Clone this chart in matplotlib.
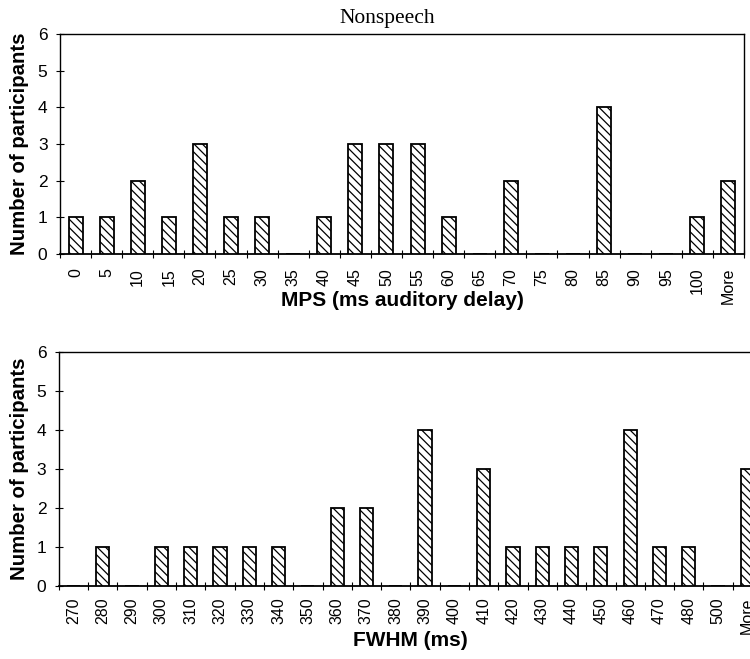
import matplotlib
matplotlib.use("Agg")
import matplotlib.pyplot as plt
import numpy as np

mps_labels = ["0", "5", "10", "15", "20", "25", "30", "35", "40", "45", "50",
              "55", "60", "65", "70", "75", "80", "85", "90", "95", "100", "More"]
mps_counts = [1, 1, 2, 1, 3, 1, 1, 0, 1, 3, 3, 3, 1, 0, 2, 0, 0, 4, 0, 0, 1, 2]

fwhm_labels = ["270", "280", "290", "300", "310", "320", "330", "340", "350",
               "360", "370", "380", "390", "400", "410", "420", "430", "440",
               "450", "460", "470", "480", "500", "More"]
fwhm_counts = [0, 1, 0, 1, 1, 1, 1, 1, 0, 2, 2, 0, 4, 0, 3, 1, 1, 1, 1, 4, 1, 1, 0, 3]

plt.rcParams['font.family'] = ['Liberation Sans', 'DejaVu Sans']
plt.rcParams['hatch.linewidth'] = 0.9

fig = plt.figure(figsize=(7.5, 6.59), dpi=100)

def draw(ax, labels, counts, xlabel, xlab_y, ylab_x, tickpad):
    n = len(labels)
    x = np.arange(n)
    ax.bar(x, counts, width=0.45, color='white', edgecolor='black',
           linewidth=1.3, hatch='\\\\\\\\', zorder=3)
    ax.set_xlim(-0.5, n - 0.5)
    ax.set_ylim(0, 6)
    ax.set_yticks(range(7))
    ax.set_xticks(x)
    ax.set_xticklabels(labels, rotation=90, fontsize=11.5)
    ax.tick_params(axis='x', length=0, pad=tickpad)
    ax.set_xticks(np.arange(n + 1) - 0.5, minor=True)
    ax.tick_params(axis='x', which='minor', length=6, direction='inout', width=0.8)
    ax.tick_params(axis='y', labelsize=12.5, length=6, direction='inout',
                   width=0.8, pad=6)
    for s in ax.spines.values():
        s.set_linewidth(1.0)
    ax.spines['bottom'].set_linewidth(1.3)
    ax.set_ylabel("Number of participants", fontsize=14.7, fontweight='bold')
    ax.yaxis.set_label_coords(ylab_x, 0.5)
    ax.set_xlabel(xlabel, fontsize=15, fontweight='bold', va='top')
    ax.xaxis.set_label_coords(0.5, xlab_y)

ax1 = fig.add_axes([0.08, 0.6146, 0.912, 0.3338])
draw(ax1, mps_labels, mps_counts, "MPS (ms auditory delay)", -0.168, -0.045, 10)
fig.text(0.516, 0.972, "Nonspeech", fontsize=15.5, family='Liberation Serif',
         ha='center', va='center')

ax2 = fig.add_axes([0.0784, 0.1108, 0.9376, 0.3555])
draw(ax2, fwhm_labels, fwhm_counts, "FWHM (ms)", -0.192, -0.042, 8)

fig.savefig("out.png", dpi=100)
